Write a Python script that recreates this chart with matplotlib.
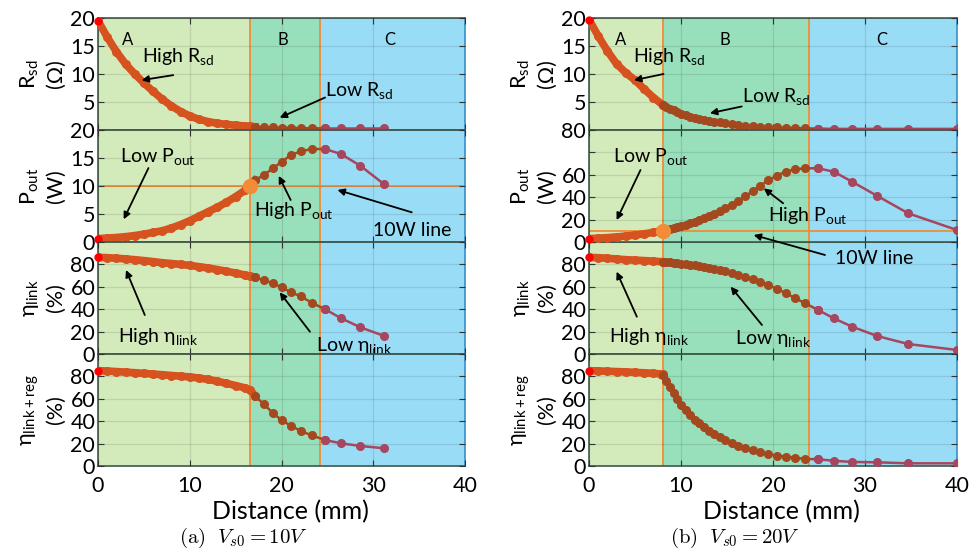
import matplotlib
matplotlib.use("Agg")
import matplotlib.pyplot as plt

plt.rcParams['font.family'] = ['Lato', 'DejaVu Sans']
plt.rcParams['mathtext.fontset'] = 'custom'
plt.rcParams['mathtext.rm'] = 'Lato'
plt.rcParams['mathtext.it'] = 'Lato:italic'
plt.rcParams['mathtext.bf'] = 'Lato:bold'

# ---------------- data: (a) Vs0 = 10V ----------------
left_xa = [0, 1, 2, 3, 4, 5, 6, 7, 8, 9, 10, 11, 12, 13, 14, 15, 16, 16.6]
left_xb = [17.1, 18.1, 19.1, 20.0, 21.0, 22.1, 23.3]
left_xc = [24.75, 26.5, 28.6, 31.2]

left_rsd_a = [19.5, 16.6, 14.0, 11.8, 10.0, 8.4, 6.9, 5.5, 4.3, 3.3, 2.5, 1.9, 1.5, 1.2, 1.0, 0.85, 0.72, 0.65]
left_rsd_b = [0.58, 0.5, 0.45, 0.4, 0.37, 0.33, 0.3]
left_rsd_c = [0.3, 0.3, 0.3, 0.3]

left_pout_a = [0.6, 0.7, 0.8, 0.95, 1.15, 1.4, 1.7, 2.0, 2.5, 3.1, 3.8, 4.6, 5.4, 6.2, 7.1, 8.1, 9.2, 10.0]
left_pout_b = [11.0, 12.0, 13.2, 14.3, 15.5, 16.2, 16.6]
left_pout_c = [16.6, 15.7, 13.6, 10.3]

left_eta_a = [86.3, 86.0, 85.5, 84.9, 84.2, 83.4, 82.5, 81.5, 80.8, 80.0, 79.1, 78.0, 76.8, 75.4, 73.9, 72.3, 70.6, 69.6]
left_eta_b = [68.5, 65.8, 63.1, 59.5, 55.3, 51.5, 45.8]
left_eta_c = [39.9, 31.9, 23.8, 16.1]

left_reg_a = [85.1, 84.8, 84.3, 83.8, 83.3, 82.7, 82.1, 81.5, 80.8, 80.2, 79.5, 78.5, 77.3, 75.7, 73.8, 71.8, 69.8, 68.0]
left_reg_b = [62.5, 55.0, 47.0, 41.0, 36.0, 31.3, 27.3]
left_reg_c = [23.2, 20.2, 17.9, 15.8]

# ---------------- data: (b) Vs0 = 20V ----------------
right_xa = [0, 1, 2, 3, 4, 5, 6, 7, 8.0]
right_xb = [8.0, 8.4, 8.8, 9.2, 9.6, 10.0, 10.5, 11.0, 11.5, 12.0, 12.5, 13.0, 13.6,
            14.2, 14.8, 15.5, 16.2, 17.0, 17.8, 18.6, 19.5, 20.4, 21.4, 22.4, 23.5]
right_xc = [24.9, 26.6, 28.6, 31.3, 34.7, 40.0]

right_rsd_a = [19.7, 16.8, 14.1, 11.8, 10.2, 8.9, 7.3, 5.8, 4.5]
right_rsd_b = [4.5, 4.1, 3.8, 3.5, 3.2, 2.9, 2.6, 2.4, 2.2, 2.0, 1.8, 1.65, 1.5,
               1.35, 1.2, 1.05, 0.9, 0.8, 0.7, 0.6, 0.5, 0.45, 0.4, 0.35, 0.3]
right_rsd_c = [0.25, 0.2, 0.2, 0.2, 0.2, 0.2]

right_pout_a = [3.0, 3.4, 3.9, 4.5, 5.3, 6.2, 7.3, 8.6, 10.2]
right_pout_b = [10.2, 11.0, 11.8, 12.7, 13.6, 14.5, 15.5, 16.8, 18.2, 19.8, 21.5, 23.2, 25.4,
                27.8, 30.3, 33.2, 36.6, 40.8, 45.5, 50.3, 55.0, 59.3, 62.8, 64.9, 65.8]
right_pout_c = [65.8, 62.8, 53.8, 41.3, 25.6, 10.7]

right_eta_a = [86.3, 86.0, 85.5, 84.8, 84.2, 83.8, 83.4, 82.9, 82.4]
right_eta_b = [82.4, 82.1, 81.8, 81.5, 81.1, 80.7, 80.3, 79.7, 79.1, 78.4, 77.6, 76.8, 75.8,
               74.8, 73.7, 72.4, 70.9, 69.0, 66.8, 64.3, 61.5, 58.2, 54.3, 49.9, 45.3]
right_eta_c = [39.3, 31.9, 24.4, 16.1, 8.9, 3.6]

right_reg_a = [85.1, 84.9, 84.6, 84.3, 84.0, 83.6, 83.2, 82.7, 82.1]
right_reg_b = [81.0, 76.0, 70.5, 65.0, 59.5, 54.5, 50.0, 45.5, 41.5, 38.0, 34.5, 31.5, 28.5,
               25.8, 23.2, 20.5, 18.0, 15.8, 14.0, 12.5, 10.6, 9.3, 8.4, 7.4, 6.3]
right_reg_c = [6.0, 4.7, 3.6, 3.3, 2.4, 2.4]

x_ticks = [0, 10, 20, 30, 40]

# colours
bg_a, bg_b, bg_c = '#d3eabb', '#98dfbb', '#99dcf5'
col_a, col_b, col_c = '#d6521f', '#a4491f', '#a6465f'
orange = '#f28c38'
spine_col = '#3d5a4c'

W, H = 971, 550
fig = plt.figure(figsize=(W / 100, H / 100), dpi=100)


def make_axes(x0_px, x1_px):
    axes = []
    for top in [18, 130, 242, 354]:
        ax = fig.add_axes([x0_px / W, 1 - (top + 112) / H, (x1_px - x0_px) / W, 112 / H])
        axes.append(ax)
    return axes


def style_axes(ax, bounds, ylim, yticks, ylabels, bottom=False):
    xa_end, xb_end = bounds
    ax.set_xlim(0, 40)
    ax.set_ylim(*ylim)
    ax.axvspan(0, xa_end, color=bg_a, zorder=0, lw=0)
    ax.axvspan(xa_end, xb_end, color=bg_b, zorder=0, lw=0)
    ax.axvspan(xb_end, 40, color=bg_c, zorder=0, lw=0)
    ax.axvline(xa_end, color=orange, lw=1.3, zorder=2)
    ax.axvline(xb_end, color=orange, lw=1.3, zorder=2)
    ax.set_xticks(x_ticks)
    ax.set_yticks(yticks)
    ax.set_yticklabels(ylabels)
    ax.grid(True, color='k', alpha=0.1, lw=0.9, zorder=1)
    ax.set_axisbelow(False)
    ax.tick_params(direction='in', top=True, right=True, length=4, width=0.8,
                   labelsize=15.5, pad=2, colors='#333333', labelcolor='black')
    if bottom:
        ax.tick_params(axis='x', pad=7)
    else:
        ax.tick_params(axis='x', labelbottom=False)
    for s in ax.spines.values():
        s.set_color(spine_col)
        s.set_linewidth(1.2)
    ax.spines['right'].set_color('#3592c8')


def plot_curve(ax, xa, ya, xb, yb, xc, yc):
    ax.plot(list(xa) + [xb[0]], list(ya) + [yb[0]], '-o', color=col_a, lw=5.5, ms=5.5, zorder=3)
    ax.plot(list(xb) + [xc[0]], list(yb) + [yc[0]], '-o', color=col_b, lw=1.8, ms=5.5, zorder=3)
    ax.plot(xc, yc, '-o', color=col_c, lw=1.8, ms=5.5, zorder=3)
    ax.plot(xa[0], ya[0], 'o', color='red', ms=5, zorder=4, clip_on=False)


def note(ax, text, pos, tail, head, size=14):
    ax.text(pos[0], pos[1], text, ha='left', va='center', fontsize=size, zorder=6, clip_on=False)
    ax.annotate('', xy=head, xytext=tail, annotation_clip=False, zorder=6,
                arrowprops=dict(arrowstyle='-|>', color='black', lw=1.3, mutation_scale=10,
                                shrinkA=0, shrinkB=0))


ylab_kw = dict(fontsize=15.5, linespacing=1.35, labelpad=3)
rsd_label = 'R$_{\\mathrm{sd}}$\n(Ω)'
pout_label = 'P$_{\\mathrm{out}}$\n(W)'
eta_label = 'η$_{\\mathrm{link}}$\n(%)'
reg_label = 'η$_{\\mathrm{link+reg}}$\n(%)'
pct_ticks = [0, 20, 40, 60, 80, 100]
pct_labels = ['0', '20', '40', '60', '80', '']

# ---------------- (a) ----------------
la = make_axes(98, 465)
lb = (16.6, 24.2)
style_axes(la[0], lb, (0, 20), [0, 5, 10, 15, 20], ['', '5', '10', '15', '20'])
style_axes(la[1], lb, (0, 20), [0, 5, 10, 15, 20], ['0', '5', '10', '15', '20'])
style_axes(la[2], lb, (0, 100), pct_ticks, pct_labels)
style_axes(la[3], lb, (0, 100), pct_ticks, pct_labels, bottom=True)
la[1].axhline(10, color=orange, lw=1.3, zorder=2)
plot_curve(la[0], left_xa, left_rsd_a, left_xb, left_rsd_b, left_xc, left_rsd_c)
plot_curve(la[1], left_xa, left_pout_a, left_xb, left_pout_b, left_xc, left_pout_c)
plot_curve(la[2], left_xa, left_eta_a, left_xb, left_eta_b, left_xc, left_eta_c)
plot_curve(la[3], left_xa, left_reg_a, left_xb, left_reg_b, left_xc, left_reg_c)
la[1].plot(lb[0], 10, 'o', color=orange, ms=10, zorder=5)

for ax, lab in zip(la, [rsd_label, pout_label, eta_label, reg_label]):
    ax.set_ylabel(lab, **ylab_kw)

for t, x in zip(['A', 'B', 'C'], [3.2, 20.2, 31.8]):
    la[0].text(x, 16, t, ha='center', va='center', fontsize=12, zorder=6)
note(la[0], 'High R$_{\\mathrm{sd}}$', (4.75, 13.2), (8.2, 9.8), (4.75, 8.9))
note(la[0], 'Low R$_{\\mathrm{sd}}$', (24.75, 7.0), (24.75, 5.8), (19.8, 2.2))
note(la[1], 'Low P$_{\\mathrm{out}}$', (2.4, 15.2), (5.5, 13.2), (2.8, 4.05))
note(la[1], 'High P$_{\\mathrm{out}}$', (16.95, 5.6), (21.0, 7.5), (19.7, 11.8))
note(la[1], '10W line', (29.95, 2.0), (34.2, 5.3), (26.1, 9.3))
note(la[2], 'High η$_{\\mathrm{link}}$', (2.2, 16), (5.1, 34.8), (3.05, 75))
note(la[2], 'Low η$_{\\mathrm{link}}$', (23.8, 8), (23.1, 19.9), (19.8, 55.1))

la[3].set_xlabel('Distance (mm)', fontsize=18)
la[3].xaxis.set_label_coords(0.523, -0.30)

# ---------------- (b) ----------------
ra = make_axes(589, 957)
rb = (8.0, 23.9)
style_axes(ra[0], rb, (0, 20), [0, 5, 10, 15, 20], ['', '5', '10', '15', '20'])
style_axes(ra[1], rb, (0, 100), pct_ticks, ['0', '20', '40', '60', '', '80'])
style_axes(ra[2], rb, (0, 100), pct_ticks, pct_labels)
style_axes(ra[3], rb, (0, 100), pct_ticks, pct_labels, bottom=True)
ra[1].axhline(10, color=orange, lw=1.3, zorder=2)
plot_curve(ra[0], right_xa, right_rsd_a, right_xb, right_rsd_b, right_xc, right_rsd_c)
plot_curve(ra[1], right_xa, right_pout_a, right_xb, right_pout_b, right_xc, right_pout_c)
plot_curve(ra[2], right_xa, right_eta_a, right_xb, right_eta_b, right_xc, right_eta_c)
plot_curve(ra[3], right_xa, right_reg_a, right_xb, right_reg_b, right_xc, right_reg_c)
ra[1].plot(rb[0], 10, 'o', color=orange, ms=10, zorder=5)
ra[1].set_zorder(5)

for ax, lab in zip(ra, [rsd_label, pout_label, eta_label, reg_label]):
    ax.set_ylabel(lab, **ylab_kw)

for t, x in zip(['A', 'B', 'C'], [3.4, 14.8, 31.8]):
    ra[0].text(x, 16, t, ha='center', va='center', fontsize=12, zorder=6)
note(ra[0], 'High R$_{\\mathrm{sd}}$', (4.8, 13.1), (8.1, 10.0), (4.9, 8.9))
note(ra[0], 'Low R$_{\\mathrm{sd}}$', (16.6, 5.9), (16.6, 4.2), (13.15, 3.0))
note(ra[1], 'Low P$_{\\mathrm{out}}$', (2.65, 76.2), (5.6, 64.3), (3.0, 19.6))
note(ra[1], 'High P$_{\\mathrm{out}}$', (19.5, 24.1), (21.1, 34.6), (19.0, 47.9))
note(ra[1], '10W line', (26.7, -14.6), (25.65, -11.6), (17.9, 6.25))
note(ra[2], 'High η$_{\\mathrm{link}}$', (2.2, 15.5), (5.2, 33.3), (3.0, 73.5))
note(ra[2], 'Low η$_{\\mathrm{link}}$', (15.9, 13.4), (18.8, 25.9), (15.4, 60.1))

ra[3].set_xlabel('Distance (mm)', fontsize=18)
ra[3].xaxis.set_label_coords(0.524, -0.30)

# captions
fig.text(243 / W, 1 - 538 / H, r'$\mathrm{(a)}\ \ V_{s0} = 10V$', ha='center', va='center',
         fontsize=15, math_fontfamily='cm')
fig.text(735 / W, 1 - 538 / H, r'$\mathrm{(b)}\ \ V_{s0} = 20V$', ha='center', va='center',
         fontsize=15, math_fontfamily='cm')

fig.savefig('out.png', dpi=100)
